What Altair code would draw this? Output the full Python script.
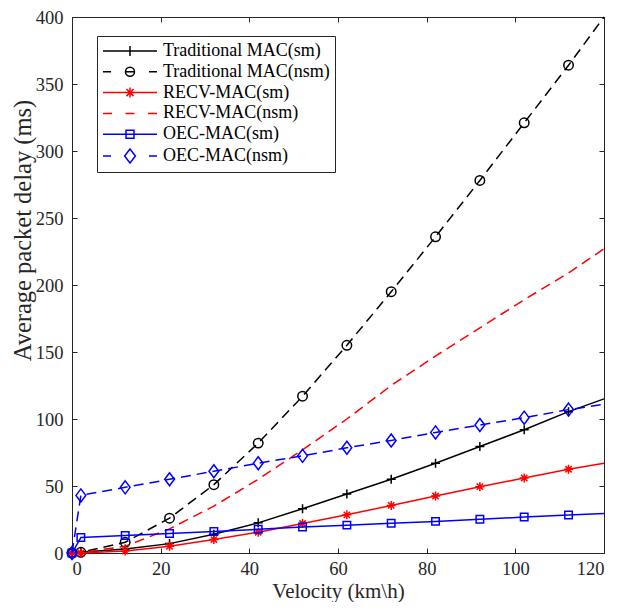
import altair as alt
import pandas as pd

# ---------------- data ----------------
velocity = [0, 2, 12, 22, 32, 42, 52, 62, 72, 82, 92, 102, 112, 120]

series_names = [
    "Traditional MAC(sm)",
    "Traditional MAC(nsm)",
    "RECV-MAC(sm)",
    "RECV-MAC(nsm)",
    "OEC-MAC(sm)",
    "OEC-MAC(nsm)",
]

trad_sm = [0, 0.5, 3, 7, 14, 22.5, 33, 44, 55, 67, 79.5, 92, 105.5, 115]
trad_nsm = [0, 0.5, 8, 26, 51, 82, 117, 155, 195, 236, 278, 321, 364, 400]
recv_sm = [0, 0, 1.5, 5, 10, 15.5, 22, 28.5, 35.5, 42.5, 49.5, 56, 62.5, 67]
recv_nsm = [0, 0.3, 5, 18, 35, 55, 77, 100, 125, 147, 168, 189, 209, 227]
oec_sm = [0, 11.5, 13, 14.5, 16, 17.7, 19.4, 20.8, 22.2, 23.6, 25.1, 26.8, 28.3, 29.5]
oec_nsm = [0, 43, 49, 55, 61, 67, 72.5, 78.5, 84, 90, 95.5, 101, 107, 111]

series_values = [trad_sm, trad_nsm, recv_sm, recv_nsm, oec_sm, oec_nsm]

x_ticks = [0, 20, 40, 60, 80, 100, 120]
y_ticks = [0, 50, 100, 150, 200, 250, 300, 350, 400]

rows = []
for name, vals in zip(series_names, series_values):
    for i, (xv, yv) in enumerate(zip(velocity, vals)):
        rows.append({"series": name, "velocity": xv, "delay": yv,
                     "marker": i < len(velocity) - 1})
df = pd.DataFrame(rows)

# ---------------- styles ----------------
BLACK, RED, BLUE = "#000000", "#ff0000", "#0000ff"
PLUS = "M-1,0L1,0M0,-1L0,1"
STAR = "M-1,0L1,0M0,-1L0,1M-0.7,-0.7L0.7,0.7M-0.7,0.7L0.7,-0.7"
DIAM = "M0,-1L0.75,0L0,1L-0.75,0Z"
styles = {
    "Traditional MAC(sm)": dict(color=BLACK, dash=None, shape=PLUS, size=81),
    "Traditional MAC(nsm)": dict(color=BLACK, dash=[10, 6], shape="circle", size=90),
    "RECV-MAC(sm)": dict(color=RED, dash=None, shape=STAR, size=81),
    "RECV-MAC(nsm)": dict(color=RED, dash=[10, 6], shape=None, size=0),
    "OEC-MAC(sm)": dict(color=BLUE, dash=None, shape="square", size=56),
    "OEC-MAC(nsm)": dict(color=BLUE, dash=[10, 6], shape=DIAM, size=169),
}
series_colors = [styles[n]["color"] for n in series_names]

# legend symbols (units of 9 px): line segments + marker
legend_paths = [
    "M-3,0L3,0M0,-0.556L0,0.556",
    "M-3,0L-2.111,0M2.111,0L3,0M-0.444,0L0.444,0M0.5,0A0.5,0.5,0,1,1,-0.5,0A0.5,0.5,0,1,1,0.5,0Z",
    "M-3,0L3,0M0,-0.556L0,0.556M-0.393,-0.393L0.393,0.393M-0.393,0.393L0.393,-0.393",
    "M-3,0L-2,0M-0.5,0L0.5,0M2,0L3,0",
    "M-3,0L3,0M-0.444,-0.444L0.444,-0.444L0.444,0.444L-0.444,0.444Z",
    "M-3,0L-2.111,0M2.111,0L3,0M0,-0.78L0.6,0L0,0.78L-0.6,0Z",
]

FRAME = "#262626"
FONT = "Liberation Serif"

xs = alt.Scale(domain=[0, 120], nice=False, zero=False)
ys = alt.Scale(domain=[0, 400], nice=False, zero=False)

ax_bottom = alt.Axis(orient="bottom", values=x_ticks, offset=-5, tickSize=5,
                     domain=False, grid=False, labelPadding=6,
                     title="Velocity (km\\h)", titlePadding=2.5, titleFontSize=21)
ax_left = alt.Axis(orient="left", values=y_ticks, offset=-5, tickSize=5,
                   domain=False, grid=False, labelPadding=9,
                   title="Average packet delay (ms)", titlePadding=0,
                   titleFontSize=24.5, titleY=213)
ax_top = alt.Axis(orient="top", values=x_ticks, offset=-5, tickSize=5,
                  domain=False, grid=False, labels=False, title=None)
ax_right = alt.Axis(orient="right", values=y_ticks, offset=-5, tickSize=5,
                    domain=False, grid=False, labels=False, title=None)

X = alt.X("velocity:Q", scale=xs, axis=ax_bottom)
Y = alt.Y("delay:Q", scale=ys, axis=ax_left)

layers = []
for name in series_names:
    st = styles[name]
    base = alt.Chart(df).transform_filter(alt.datum.series == name)
    line_kw = dict(color=st["color"], strokeWidth=1.5)
    if st["dash"]:
        line_kw["strokeDash"] = st["dash"]
    layers.append(base.mark_line(**line_kw).encode(x=X, y=Y, order="velocity:Q"))
    if st["shape"]:
        layers.append(
            base.transform_filter("datum.marker")
            .mark_point(shape=st["shape"], size=st["size"], filled=False,
                        color=st["color"], strokeWidth=1.5, opacity=1)
            .encode(x=X, y=Y)
        )

inner = alt.layer(*layers)

legend = alt.Legend(
    title=None, orient="none", legendX=25, legendY=19, direction="vertical",
    labelFont=FONT, labelFontSize=18, labelColor="#000000", labelLimit=400,
    labelAlign="left",
    symbolSize=324, symbolStrokeWidth=1.5, symbolOffset=18, labelOffset=23,
    symbolFillColor="transparent", symbolOpacity=1,
    padding=5, rowPadding=1.8, strokeColor=FRAME, fillColor="#ffffff",
)

frame = (
    alt.Chart(df)
    .transform_filter("false")
    .mark_point(size=324, filled=False, opacity=1, strokeWidth=1.5)
    .encode(
        x=alt.X("velocity:Q", scale=xs, axis=ax_top),
        y=alt.Y("delay:Q", scale=ys, axis=ax_right),
        shape=alt.Shape("series:N",
                        scale=alt.Scale(domain=series_names, range=legend_paths),
                        legend=legend),
        color=alt.Color("series:N",
                        scale=alt.Scale(domain=series_names, range=series_colors),
                        legend=legend),
    )
)

chart = (
    alt.layer(inner, frame)
    .resolve_axis(x="independent", y="independent")
    .properties(
        width=532, height=536,
        autosize=alt.AutoSizeParams(type="none"),
        padding={"left": 64, "top": 9, "right": 7, "bottom": 49},
    )
    .configure_view(stroke=FRAME, strokeWidth=1)
    .configure_axis(
        labelFont=FONT, labelFontSize=18.5, labelColor=FRAME,
        titleFont=FONT, titleFontWeight="normal",
        titleColor=FRAME, tickColor=FRAME, tickWidth=1,
    )
)

chart.save("out.html", embed_options={"renderer": "svg", "actions": False})
